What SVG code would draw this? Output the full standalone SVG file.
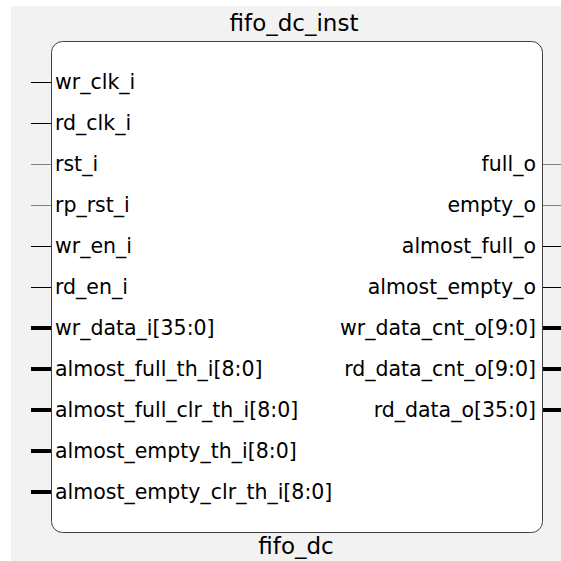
<svg xmlns="http://www.w3.org/2000/svg" width="561" height="561" viewBox="0 0 561 561">
<style>
text{font-family:"DejaVu Sans",Verdana,sans-serif;font-size:20.5px;fill:#000}
.l{text-anchor:start}
.r{text-anchor:end}
.t{text-anchor:middle;font-size:23px}
.w{stroke:#000;stroke-width:1}
.g{stroke:#808080;stroke-width:1}
.b{stroke:#000;stroke-width:4}
</style>
<rect x="0" y="0" width="561" height="561" fill="#ffffff"/>
<rect x="11" y="6" width="550" height="555" fill="#f2f2f2"/>
<g id="connectors">
<line class="w" x1="31" y1="82.5" x2="51" y2="82.5"/>
<line class="w" x1="31" y1="123.5" x2="51" y2="123.5"/>
<line class="g" x1="31" y1="164.5" x2="51" y2="164.5"/>
<line class="g" x1="31" y1="205.5" x2="51" y2="205.5"/>
<line class="w" x1="31" y1="246.5" x2="51" y2="246.5"/>
<line class="w" x1="31" y1="287.5" x2="51" y2="287.5"/>
<line class="b" x1="31" y1="328" x2="51" y2="328"/>
<line class="b" x1="31" y1="369" x2="51" y2="369"/>
<line class="b" x1="31" y1="410" x2="51" y2="410"/>
<line class="b" x1="31" y1="451" x2="51" y2="451"/>
<line class="b" x1="31" y1="492" x2="51" y2="492"/>
<line class="g" x1="543" y1="164.5" x2="561" y2="164.5"/>
<line class="g" x1="543" y1="205.5" x2="561" y2="205.5"/>
<line class="w" x1="543" y1="246.5" x2="561" y2="246.5"/>
<line class="w" x1="543" y1="287.5" x2="561" y2="287.5"/>
<line class="b" x1="543" y1="328" x2="561" y2="328"/>
<line class="b" x1="543" y1="369" x2="561" y2="369"/>
<line class="b" x1="543" y1="410" x2="561" y2="410"/>
</g>
<g id="fifo_dc_inst">
<text class="t" x="294" y="31">fifo_dc_inst</text>
<rect x="51.5" y="41.5" width="491" height="491" rx="11" ry="11" fill="#ffffff" stroke="#404040" stroke-width="1"/>
<text class="t" x="296" y="554">fifo_dc</text>
<text class="l" x="55" y="89">wr_clk_i</text>
<text class="l" x="55" y="130">rd_clk_i</text>
<text class="l" x="55" y="171">rst_i</text>
<text class="l" x="55" y="212">rp_rst_i</text>
<text class="l" x="55" y="253">wr_en_i</text>
<text class="l" x="55" y="294">rd_en_i</text>
<text class="l" x="55" y="335">wr_data_i[35:0]</text>
<text class="l" x="55" y="376">almost_full_th_i[8:0]</text>
<text class="l" x="55" y="417">almost_full_clr_th_i[8:0]</text>
<text class="l" x="55" y="458">almost_empty_th_i[8:0]</text>
<text class="l" x="55" y="499">almost_empty_clr_th_i[8:0]</text>
<text class="r" x="536" y="171">full_o</text>
<text class="r" x="536" y="212">empty_o</text>
<text class="r" x="536" y="253">almost_full_o</text>
<text class="r" x="536" y="294">almost_empty_o</text>
<text class="r" x="536" y="335">wr_data_cnt_o[9:0]</text>
<text class="r" x="536" y="376">rd_data_cnt_o[9:0]</text>
<text class="r" x="536" y="417">rd_data_o[35:0]</text>
</g>
</svg>
